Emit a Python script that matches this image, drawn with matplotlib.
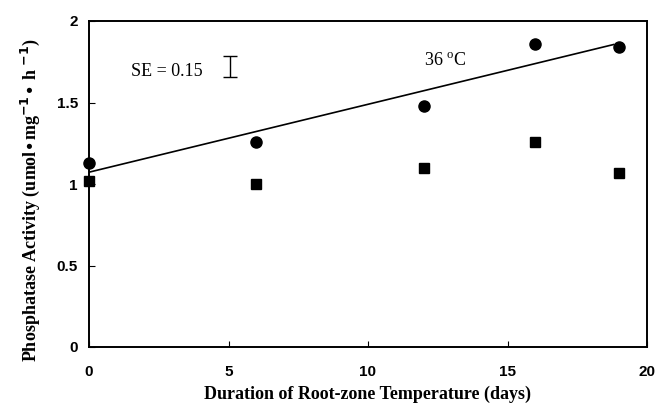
import numpy as np
import matplotlib
matplotlib.use("Agg")
import matplotlib.pyplot as plt

days = [0, 6, 12, 16, 19]
circle_vals = [1.13, 1.26, 1.48, 1.86, 1.84]
square_vals = [1.02, 1.00, 1.10, 1.26, 1.07]
x_ticks = [0, 5, 10, 15, 20]
y_ticks = [0, 0.5, 1, 1.5, 2]
y_tick_labels = ["0", "0.5", "1", "1.5", "2"]
se_center = 1.72
se_half = 0.065

fig = plt.figure(figsize=(6.66, 4.03), dpi=100)
ax = fig.add_axes([89/666, 1-347/403, (647-89)/666, (347-21)/403])

# regression line for circles
slope, intercept = np.polyfit(days, circle_vals, 1)
xl = np.array([0, 18.8])
ax.plot(xl, intercept + slope * xl, color="black", lw=1.2, zorder=2)

ax.plot(days, circle_vals, "o", color="black", ms=8, clip_on=False, zorder=3)
ax.plot(days, square_vals, "s", color="black", ms=7.5, clip_on=False, zorder=3)

# SE bar
ax.errorbar([5.05], [se_center], yerr=[se_half], color="black", capsize=5,
            elinewidth=1.0, capthick=1.0, fmt="none")
ax.text(1.5, 1.69, "SE = 0.15", family="Liberation Serif", fontsize=13,
        va="center", ha="left")
ax.text(12.0, 1.75, r"36 $^{\mathregular{o}}$C", family="Liberation Serif",
        fontsize=13, va="center", ha="left")

ax.set_xlim(0, 20)
ax.set_ylim(0, 2)
ax.set_xticks(x_ticks)
ax.set_yticks(y_ticks)
ax.set_yticklabels(y_tick_labels)
ax.tick_params(direction="in", length=4, width=0.8, labelsize=11)
for lab in ax.get_xticklabels() + ax.get_yticklabels():
    lab.set_fontfamily("Liberation Sans")
    lab.set_fontweight("bold")
ax.tick_params(axis="y", pad=8)
ax.tick_params(axis="x", pad=13)
for s in ax.spines.values():
    s.set_linewidth(1.4)

ax.set_xlabel("Duration of Root-zone Temperature (days)",
              family="Liberation Serif", fontweight="bold", fontsize=13,
              labelpad=5)
ax.set_ylabel(r"Phosphatase Activity (umol$\bullet$mg$^{\mathbf{-1}}$$\bullet$ h $^{\mathbf{-1}}$)",
              family="Liberation Serif", fontweight="bold", fontsize=13)
ax.yaxis.set_label_coords(-0.085, 0.45)

fig.savefig("out.png", dpi=100)
